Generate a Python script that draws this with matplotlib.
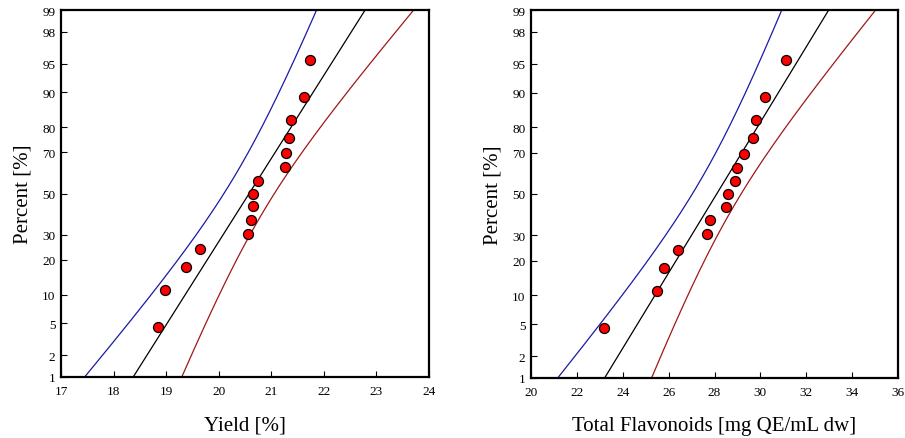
import numpy as np
import matplotlib
matplotlib.use("Agg")
import matplotlib.pyplot as plt
from statistics import NormalDist

# Observed values (sorted) and their plotting positions in percent
yield_vals = [18.84, 18.98, 19.37, 19.64, 20.55, 20.62, 20.65, 20.66, 20.75,
              21.27, 21.28, 21.34, 21.38, 21.62, 21.74]
flavonoid_vals = [23.18, 25.48, 25.78, 26.39, 27.69, 27.80, 28.50, 28.61, 28.90,
                  29.00, 29.30, 29.69, 29.80, 30.19, 31.10]
percent_pos = [4.5, 11.0, 17.5, 24.0, 30.5, 37.0, 43.5, 50.0, 56.5,
               63.0, 69.5, 76.0, 82.5, 89.0, 95.5]

y_ticks = [1, 2, 5, 10, 20, 30, 50, 70, 80, 90, 95, 98, 99]
yield_xticks = [17, 18, 19, 20, 21, 22, 23, 24]
flav_xticks = [20, 22, 24, 26, 28, 30, 32, 34, 36]

_nd = NormalDist()


def _ppf_scalar(p):
    if not np.isfinite(p):
        return np.nan
    return _nd.inv_cdf(min(max(p, 1e-9), 100 - 1e-9) / 100.0)


def _cdf_scalar(z):
    if not np.isfinite(z):
        return np.nan
    return 100.0 * _nd.cdf(z)


_ppf = np.vectorize(_ppf_scalar, otypes=[float])
_cdf = np.vectorize(_cdf_scalar, otypes=[float])


def probit_forward(p):
    return _ppf(np.asarray(p, dtype=float))


def probit_inverse(z):
    return _cdf(np.asarray(z, dtype=float))


plt.rcParams['font.family'] = ['Liberation Serif', 'DejaVu Serif']

fig = plt.figure(figsize=(9.05, 4.39), dpi=100)
ax1 = fig.add_axes([61 / 905, 61 / 439, 368 / 905, 367 / 439])
ax2 = fig.add_axes([531 / 905, 60 / 439, 367 / 905, 368 / 439])


def prob_plot(ax, vals, xlim, xticks, xlabel):
    vals = np.asarray(vals)
    n = len(vals)
    mu = vals.mean()
    sd = vals.std(ddof=1)
    p = np.linspace(1, 99, 400)
    z = probit_forward(p)
    xp = mu + z * sd
    half = 1.96 * sd / np.sqrt(n) * np.sqrt(1 + z ** 2 / 2)
    ax.set_yscale('function', functions=(probit_forward, probit_inverse))
    ax.plot(xp, p, color='black', lw=0.9, zorder=2)
    ax.plot(xp - half, p, color='#1a1aa6', lw=0.9, zorder=2)
    ax.plot(xp + half, p, color='#a01818', lw=0.9, zorder=2)
    ax.plot(vals, percent_pos, 'o', ms=7.2, mfc='#ff0000', mec='black',
            mew=0.9, zorder=3, clip_on=False)
    ax.set_ylim(1, 99)
    ax.set_xlim(*xlim)
    ax.set_yticks(y_ticks)
    ax.set_yticklabels([str(t) for t in y_ticks])
    ax.yaxis.set_minor_locator(matplotlib.ticker.NullLocator())
    ax.set_xticks(xticks)
    ax.set_xticklabels([str(t) for t in xticks])
    ax.tick_params(direction='in', length=4, width=0.8, labelsize=9.5,
                   top=False, right=False)
    ax.tick_params(axis='x', pad=6)
    ax.tick_params(axis='y', pad=4)
    for s in ax.spines.values():
        s.set_linewidth(1.6)
    ax.set_xlabel(xlabel, fontsize=15, labelpad=13)
    ax.set_ylabel('Percent [%]', fontsize=15, labelpad=7)


prob_plot(ax1, yield_vals, (17, 24), yield_xticks, 'Yield [%]')
prob_plot(ax2, flavonoid_vals, (20, 36), flav_xticks,
          'Total Flavonoids [mg QE/mL dw]')

fig.savefig('out.png', dpi=100)
